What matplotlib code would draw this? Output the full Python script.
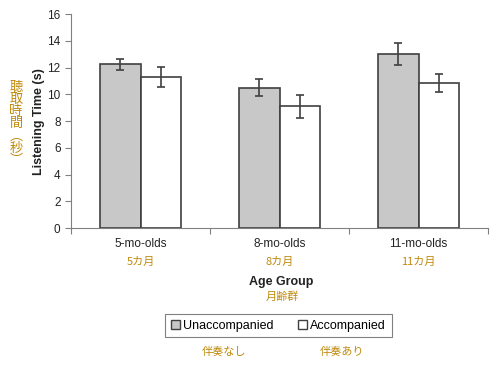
import numpy as np
import matplotlib.pyplot as plt
from matplotlib.patches import Patch

plt.rcParams['font.family'] = ['Liberation Sans', 'Noto Sans CJK JP', 'DejaVu Sans']
jp = ['Noto Sans CJK JP', 'DejaVu Sans']

#%% Data
groups = ['5-mo-olds', '8-mo-olds', '11-mo-olds']
groups_jp = ['5カ月', '8カ月', '11カ月']
unacc = [12.25, 10.5, 13.0]
unacc_err = [0.4, 0.65, 0.8]
acc = [11.3, 9.1, 10.85]
acc_err = [0.75, 0.85, 0.7]
yticks = [0, 2, 4, 6, 8, 10, 12, 14, 16]
ylabel_jp = ['聴', '取', '時', '間', '︵', '秒', '︶']

gold = '#c08a0c'
edge = '#404040'

#%% Plot
fig = plt.figure(figsize=(5, 3.65), dpi=100)
ax = fig.add_axes([0.142, 0.375, 0.834, 0.5866])

x = np.arange(len(groups))
w = 0.288
ax.bar(x - w/2, unacc, w, color='#c8c8c8', edgecolor=edge, linewidth=1.2)
ax.bar(x + w/2, acc, w, color='white', edgecolor=edge, linewidth=1.2)
ax.errorbar(x - w/2, unacc, yerr=unacc_err, fmt='none', ecolor=edge, elinewidth=1.2, capsize=3, capthick=1.2)
ax.errorbar(x + w/2, acc, yerr=acc_err, fmt='none', ecolor=edge, elinewidth=1.2, capsize=3, capthick=1.2)

ax.set_xlim(-0.5, 2.5)
ax.set_ylim(0, 16)
ax.set_yticks(yticks)
ax.set_xticks([-0.5, 0.5, 1.5, 2.5])
ax.set_xticklabels([])
ax.tick_params(axis='both', colors='#808080', labelcolor='#222222', labelsize=8.5, length=4)
for s in ['top', 'right']:
    ax.spines[s].set_visible(False)
for s in ['left', 'bottom']:
    ax.spines[s].set_color('#808080')

ax.set_ylabel('Listening Time (s)', fontsize=9, fontweight='bold', color='#222222', labelpad=2)

for i, (g, gj) in enumerate(zip(groups, groups_jp)):
    ax.text(i, -1.2, g, ha='center', va='center', fontsize=8.5, color='#222222')
    ax.text(i, -2.55, gj, ha='center', va='center', fontsize=8, color=gold, family=jp)

fig.text(0.562, 1 - 282/365, 'Age Group', ha='center', va='center', fontsize=9, fontweight='bold', color='#222222')
fig.text(0.564, 1 - 297/365, '月齢群', ha='center', va='center', fontsize=8, color=gold, family=jp)

for k, ch in enumerate(ylabel_jp):
    fig.text(0.032, 1 - (87 + k*12.2)/365, ch, ha='center', va='center',
             fontsize=9.5, color=gold, family=jp)

handles = [Patch(facecolor='#c8c8c8', edgecolor=edge, label='Unaccompanied'),
           Patch(facecolor='white', edgecolor=edge, label='Accompanied')]
leg = fig.legend(handles=handles, loc='center', bbox_to_anchor=(0.557, 1 - 325.5/365), ncol=2,
                 fontsize=9, frameon=True, fancybox=False, edgecolor='#606060',
                 handlelength=0.7, handleheight=0.7, handletextpad=0.3, columnspacing=1.9,
                 borderpad=0.45, borderaxespad=0)
leg.get_frame().set_linewidth(0.8)

fig.text(0.448, 1 - 352/365, '伴奏なし', ha='center', va='center', fontsize=8, color=gold, family=jp)
fig.text(0.684, 1 - 352/365, '伴奏あり', ha='center', va='center', fontsize=8, color=gold, family=jp)

fig.savefig('out.png', dpi=100)
